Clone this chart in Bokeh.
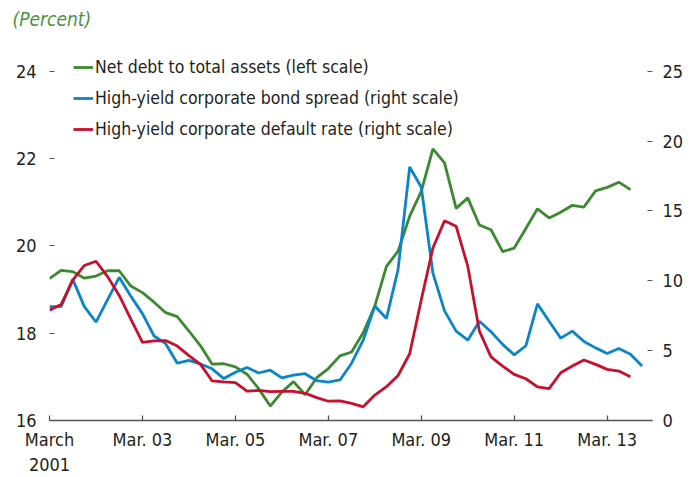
from bokeh.plotting import figure
from bokeh.models import (Range1d, LinearAxis, FixedTicker, Legend, LegendItem)
from bokeh.embed import file_html
from bokeh.resources import INLINE

# Quarterly observations, March 2001 onward (index = quarters since March 2001)
net_debt_to_assets = [19.25, 19.44, 19.41, 19.26, 19.31, 19.43, 19.43, 19.08, 18.93, 18.71,
                      18.47, 18.38, 18.05, 17.71, 17.29, 17.30, 17.23, 17.06, 16.73, 16.33,
                      16.65, 16.89, 16.59, 16.98, 17.19, 17.48, 17.57, 18.01, 18.62, 19.53,
                      19.88, 20.68, 21.25, 22.22, 21.90, 20.86, 21.10, 20.48, 20.37, 19.87,
                      19.95, 20.40, 20.85, 20.64, 20.77, 20.93, 20.89, 21.26, 21.34, 21.46,
                      21.29]
hy_bond_spread = [8.15, 8.15, 10.1, 8.15, 7.05, 8.65, 10.25, 8.9, 7.65, 6.05,
                  5.5, 4.1, 4.3, 4.05, 3.7, 3.0, 3.45, 3.8, 3.4, 3.6,
                  3.05, 3.25, 3.35, 2.85, 2.75, 2.9, 4.1, 5.75, 8.2, 7.3,
                  10.8, 18.15, 16.7, 10.55, 7.85, 6.4, 5.75, 7.1, 6.35, 5.45,
                  4.7, 5.35, 8.35, 7.1, 5.9, 6.4, 5.65, 5.2, 4.8, 5.15,
                  4.75, 3.9]
hy_default_rate = [7.9, 8.3, 10.05, 11.1, 11.4, 10.3, 8.95, 7.25, 5.6, 5.7,
                   5.72, 5.33, 4.65, 4.02, 2.83, 2.76, 2.71, 2.11, 2.15, 2.07,
                   2.09, 2.09, 1.95, 1.64, 1.38, 1.4, 1.23, 0.98, 1.82, 2.42,
                   3.22, 4.78, 8.65, 12.35, 14.3, 13.9, 11.05, 6.4, 4.55, 3.9,
                   3.3, 2.99, 2.4, 2.28, 3.42, 3.9, 4.33, 4.02, 3.66, 3.54,
                   3.14]

tick_quarters = [0, 8, 16, 24, 32, 40, 48]
tick_labels = ["March\n2001", "Mar. 03", "Mar. 05", "Mar. 07", "Mar. 09", "Mar. 11", "Mar. 13"]
left_ticks = [16, 18, 20, 22, 24]
right_ticks = [0, 5, 10, 15, 20, 25]

series_names = ["Net debt to total assets (left scale)",
                "High-yield corporate bond spread (right scale)",
                "High-yield corporate default rate (right scale)"]

GREEN = "#3b8a2f"
BLUE = "#0a85c9"
RED = "#c8102e"
TEXT = "#231f20"
FONT = "'Liberation Sans Narrow', 'Noto Sans Condensed', 'DejaVu Sans Condensed', 'Roboto Condensed', 'Liberation Sans', sans-serif"

p = figure(width=690, height=477, output_backend="svg", toolbar_location=None,
           x_range=Range1d(0, 51.9), y_range=Range1d(16, 24.934),
           min_border_left=49, min_border_right=38, min_border_top=30, min_border_bottom=55)
p.extra_y_ranges = {"right": Range1d(0, 27.92)}
p.outline_line_color = None
p.xgrid.visible = False
p.ygrid.visible = False
p.background_fill_color = "white"
p.border_fill_color = "white"

p.title.text = "(Percent)"
p.title.text_font = FONT
p.title.text_font_style = "italic"
p.title.text_font_size = "19px"
p.title.text_color = "#46943b"
p.title.align = "left"
p.title.offset = -37
p.title.standoff = 2

xs_g = list(range(len(net_debt_to_assets)))
xs_b = list(range(len(hy_bond_spread)))
xs_r = list(range(len(hy_default_rate)))

r_g = p.line(xs_g, net_debt_to_assets, line_color=GREEN, line_width=2.8)
r_b = p.line(xs_b, hy_bond_spread, line_color=BLUE, line_width=2.8, y_range_name="right")
r_r = p.line(xs_r, hy_default_rate, line_color=RED, line_width=2.8, y_range_name="right")

def style_axis(ax):
    ax.major_label_text_font = FONT
    ax.major_label_text_font_size = "18px"
    ax.major_label_text_color = TEXT
    ax.minor_tick_line_color = None

# bottom axis
xa = p.xaxis[0]
xa.ticker = FixedTicker(ticks=tick_quarters)
xa.major_label_overrides = {q: lab for q, lab in zip(tick_quarters, tick_labels)}
xa.axis_line_color = "#555555"
xa.axis_line_width = 1.3
xa.major_tick_line_color = "#555555"
xa.major_tick_line_width = 1.3
xa.major_tick_in = 5
xa.major_tick_out = 0
xa.major_label_standoff = 8
style_axis(xa)

# left axis
ya = p.yaxis[0]
ya.ticker = FixedTicker(ticks=left_ticks)
ya.axis_line_color = None
ya.major_tick_line_color = "#555555"
ya.major_tick_in = 5
ya.major_tick_out = 0
ya.major_label_standoff = 13
style_axis(ya)

# right axis
ra = LinearAxis(y_range_name="right", ticker=FixedTicker(ticks=right_ticks))
ra.axis_line_color = None
ra.major_tick_line_color = "#555555"
ra.major_tick_in = 5
ra.major_tick_out = 0
ra.major_label_standoff = 10
style_axis(ra)
p.add_layout(ra, "right")

legend = Legend(items=[LegendItem(label=series_names[0], renderers=[r_g]),
                       LegendItem(label=series_names[1], renderers=[r_b]),
                       LegendItem(label=series_names[2], renderers=[r_r])],
                location=(24, 279), padding=0, margin=0, spacing=7,
                glyph_width=20, glyph_height=24, label_height=24, label_standoff=2,
                label_text_font=FONT, label_text_font_size="17.5px", label_text_color=TEXT,
                border_line_color=None, background_fill_alpha=0)
p.add_layout(legend)

open("out.html", "w").write(file_html(p, INLINE))
